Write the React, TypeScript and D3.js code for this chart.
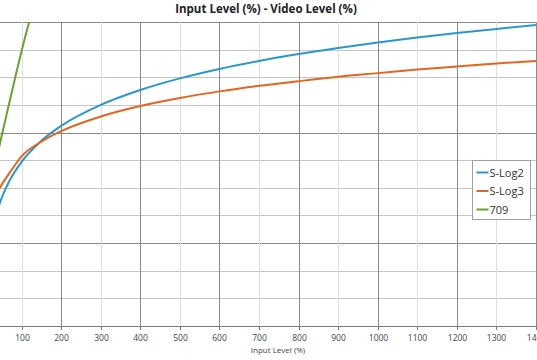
import React from "react";
import * as d3 from "d3";

// input level (%) sample points
const inputs = [20, 45, 70, 100, 150, 200, 300, 400, 500, 600, 700, 800, 900, 1000, 1100, 1200, 1300, 1400];
const slog2 = [30, 44.4, 52.7, 59.4, 67.0, 72.4, 80.0, 85.4, 89.6, 93.0, 95.9, 98.4, 100.6, 102.6, 104.4, 106.0, 107.5, 108.9];
const slog3 = [42, 50.0, 55.5, 61.4, 66.7, 70.5, 75.8, 79.6, 82.5, 84.9, 86.9, 88.6, 90.2, 91.5, 92.8, 93.9, 95.0, 95.9];
const inputs709 = [20, 30, 45.5, 63.9, 83.4, 101.8, 119.5, 130];
const rec709 = [51, 56.5, 66.1, 77.6, 89.6, 100.5, 110.1, 115];

const xTicks = [0, 100, 200, 300, 400, 500, 600, 700, 800, 900, 1000, 1100, 1200, 1300, 1400];
const xMajor = [200, 400, 600, 800, 1000, 1200, 1400];
const yTicks = [10, 20, 30, 40, 50, 60, 70, 80, 90, 100, 110];
const yMajor = [30, 70, 110];

const seriesNames = ["S-Log2", "S-Log3", "709"];
const seriesColors = ["#2b97cb", "#e3651f", "#6f9e33"];

export default function App() {
  const width = 537;
  const height = 360;
  const top = 22;
  const bottom = 326;

  const x = d3.scaleLinear().domain([0, 1400]).range([-18, 536]);
  const y = d3.scaleLinear().domain([0, 110]).range([bottom, top]);

  const line = d3
    .line<[number, number]>()
    .x((d) => x(d[0]))
    .y((d) => y(d[1]))
    .curve(d3.curveMonotoneX);

  const series = [
    inputs.map((v, i) => [v, slog2[i]] as [number, number]),
    inputs.map((v, i) => [v, slog3[i]] as [number, number]),
    inputs709.map((v, i) => [v, rec709[i]] as [number, number]),
  ];

  const font = "'Open Sans', 'Liberation Sans', sans-serif";

  return (
    <svg
      width={width}
      height={height}
      style={{ position: "absolute", left: 0, top: 0, background: "#fff" }}
    >
      <defs>
        <clipPath id="plot">
          <rect x={x(0)} y={top} width={x(1400) - x(0) + 2} height={bottom - top} />
        </clipPath>
      </defs>

      {/* horizontal grid */}
      {yTicks.map((t) => (
        <line
          key={"h" + t}
          x1={x(0)}
          x2={width}
          y1={Math.round(y(t)) + 0.5}
          y2={Math.round(y(t)) + 0.5}
          stroke={yMajor.includes(t) ? "#8a8a8a" : "#c4c4c4"}
          strokeWidth={1}
        />
      ))}

      {/* vertical grid */}
      {xTicks.map((t) => (
        <line
          key={"v" + t}
          x1={Math.round(x(t)) + 0.5}
          x2={Math.round(x(t)) + 0.5}
          y1={top}
          y2={bottom}
          stroke={xMajor.includes(t) ? "#8a8a8a" : "#dedede"}
          strokeWidth={1}
        />
      ))}

      {/* x axis */}
      <line x1={x(0)} x2={width} y1={bottom + 0.5} y2={bottom + 0.5} stroke="#7a7a7a" />
      {xTicks.filter((t) => x(t) > 0).map((t) => (
        <g key={"t" + t} transform={`translate(${Math.round(x(t)) + 0.5},${bottom})`}>
          <line y1={0} y2={4} stroke="#7a7a7a" />
          <text
            y={15}
            textAnchor="middle"
            fontFamily={font}
            fontSize={8.5}
            fill="#444"
          >
            {t}
          </text>
        </g>
      ))}

      {/* curves */}
      <g clipPath="url(#plot)">
        {series.map((s, i) => (
          <path
            key={seriesNames[i]}
            d={line(s) || ""}
            fill="none"
            stroke={seriesColors[i]}
            strokeWidth={2}
          />
        ))}
      </g>

      {/* title */}
      <text
        x={266}
        y={13}
        textAnchor="middle"
        fontFamily={font}
        fontWeight="bold"
        fontSize={11.5}
        fill="#222"
      >
        Input Level (%) - Video Level (%)
      </text>

      {/* axis title */}
      <text x={278} y={353} textAnchor="middle" fontFamily={font} fontSize={8} fill="#444">
        Input Level (%)
      </text>

      {/* legend */}
      <g transform="translate(472.5,160.5)">
        <rect width={58} height={59} fill="#fff" stroke="#a0a0a0" />
        {seriesNames.map((n, i) => (
          <g key={n} transform={`translate(4,${12 + i * 18.5})`}>
            <line x1={0} x2={12} y1={0} y2={0} stroke={seriesColors[i]} strokeWidth={2} />
            <text x={13} y={4} fontFamily={font} fontSize={11} fill="#333">
              {n}
            </text>
          </g>
        ))}
      </g>
    </svg>
  );
}
